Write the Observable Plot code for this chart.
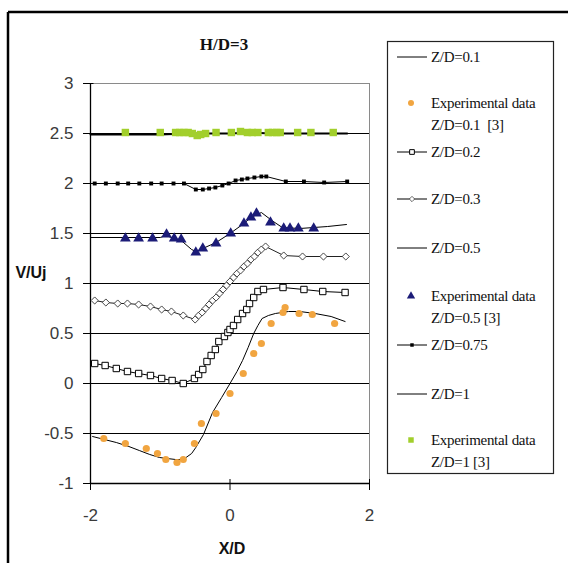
<!DOCTYPE html>
<html>
<head>
<meta charset="utf-8">
<script src="https://cdn.jsdelivr.net/npm/d3@7"></script>
<script src="https://cdn.jsdelivr.net/npm/@observablehq/plot@0.6"></script>
<style>
  html, body { margin: 0; padding: 0; background: #fff; }
  #chart { position: relative; width: 568px; height: 563px; overflow: hidden; }
</style>
</head>
<body>
<div id="chart"></div>
<script>
// ---- data ----
const titleText = "H/D=3";
const xLabel = "X/D";
const yLabel = "V/Uj";
const xTicks = [-2, 0, 2];
const yTicks = [-1, -0.5, 0, 0.5, 1, 1.5, 2, 2.5, 3];
const gridValues = [-0.5, 0, 0.5, 1, 1.5, 2, 2.5];

const z01X = [-1.97,-1.8,-1.63,-1.45,-1.3,-1.15,-1.01,-0.9,-0.78,-0.7,-0.63,-0.55,-0.49,-0.38,-0.25,-0.12,0,0.1,0.18,0.26,0.34,0.4,0.46,0.55,0.65,0.84,1.0,1.22,1.45,1.65];
const z01V = [-0.53,-0.56,-0.59,-0.63,-0.67,-0.71,-0.74,-0.75,-0.76,-0.76,-0.74,-0.70,-0.64,-0.51,-0.29,-0.14,0,0.12,0.23,0.36,0.5,0.58,0.65,0.68,0.70,0.72,0.72,0.70,0.67,0.62];

const exp01X = [-1.81,-1.50,-1.20,-1.04,-0.92,-0.76,-0.67,-0.51,-0.41,-0.20,0.0,0.19,0.34,0.45,0.59,0.76,0.79,0.99,1.18,1.50];
const exp01V = [-0.55,-0.60,-0.65,-0.70,-0.76,-0.79,-0.76,-0.60,-0.40,-0.30,-0.10,0.10,0.30,0.40,0.60,0.71,0.76,0.70,0.69,0.60];

const z02X = [-1.94,-1.79,-1.63,-1.47,-1.31,-1.14,-0.98,-0.83,-0.67,-0.51,-0.45,-0.39,-0.33,-0.27,-0.21,-0.16,-0.08,-0.03,0.0,0.05,0.11,0.18,0.24,0.28,0.34,0.40,0.48,0.76,1.06,1.33,1.65];
const z02V = [0.20,0.18,0.15,0.12,0.10,0.08,0.05,0.03,0.0,0.05,0.09,0.14,0.22,0.28,0.34,0.42,0.47,0.51,0.54,0.58,0.64,0.70,0.74,0.80,0.86,0.92,0.94,0.96,0.94,0.92,0.91];

const z03X = [-1.94,-1.78,-1.61,-1.47,-1.31,-1.14,-0.98,-0.84,-0.67,-0.50,-0.45,-0.40,-0.35,-0.30,-0.25,-0.20,-0.15,-0.10,-0.05,0.0,0.05,0.10,0.15,0.20,0.25,0.30,0.35,0.40,0.45,0.51,0.77,1.04,1.34,1.66];
const z03V = [0.83,0.81,0.80,0.80,0.79,0.77,0.74,0.72,0.68,0.64,0.68,0.71,0.75,0.79,0.83,0.86,0.90,0.94,0.98,1.02,1.06,1.10,1.13,1.17,1.20,1.24,1.27,1.31,1.34,1.37,1.28,1.27,1.27,1.27];

const z05X = [-2.0,-1.5,-1.0,-0.92,-0.8,-0.7,-0.55,-0.49,-0.39,-0.2,0.0,0.2,0.3,0.45,0.6,0.75,1.0,1.2,1.4,1.67];
const z05V = [1.46,1.46,1.46,1.48,1.45,1.43,1.34,1.32,1.35,1.41,1.50,1.60,1.66,1.71,1.63,1.56,1.55,1.56,1.57,1.59];

const exp05X = [-1.50,-1.31,-1.11,-0.91,-0.80,-0.70,-0.49,-0.39,-0.20,0.01,0.20,0.30,0.38,0.58,0.77,0.86,0.98,1.20];
const exp05V = [1.45,1.45,1.45,1.49,1.45,1.44,1.31,1.35,1.40,1.50,1.60,1.66,1.70,1.61,1.55,1.55,1.55,1.55];

const z075X = [-1.94,-1.78,-1.61,-1.46,-1.30,-1.13,-0.98,-0.81,-0.66,-0.49,-0.39,-0.30,-0.21,-0.11,-0.02,0.08,0.17,0.25,0.35,0.45,0.52,0.80,1.06,1.35,1.68];
const z075V = [2.0,2.0,2.0,2.0,2.0,2.0,2.0,2.0,2.0,1.94,1.94,1.95,1.96,1.98,2.0,2.03,2.04,2.05,2.06,2.07,2.07,2.02,2.02,2.01,2.02];

const z1X = [-2.0,-1.5,-1.0,-0.6,-0.45,-0.3,0,0.3,0.6,1.0,1.4,1.68];
const z1V = [2.49,2.49,2.49,2.5,2.49,2.5,2.5,2.51,2.5,2.5,2.5,2.5];

const exp1X = [-1.50,-1.00,-0.78,-0.72,-0.66,-0.60,-0.54,-0.47,-0.42,-0.35,-0.20,0.02,0.15,0.25,0.32,0.40,0.55,0.61,0.67,0.72,0.97,1.16,1.48];
const exp1V = [2.51,2.51,2.51,2.51,2.51,2.51,2.50,2.48,2.49,2.50,2.51,2.51,2.52,2.51,2.51,2.51,2.51,2.51,2.51,2.51,2.51,2.51,2.51];

const legendLabels = [
  ["Z/D=0.1"],
  ["Experimental data", "Z/D=0.1  [3]"],
  ["Z/D=0.2"],
  ["Z/D=0.3"],
  ["Z/D=0.5"],
  ["Experimental data", "Z/D=0.5 [3]"],
  ["Z/D=0.75"],
  ["Z/D=1"],
  ["Experimental data", "Z/D=1 [3]"]
];

// ---- styles ----
const ORANGE = "#f1a540";
const NAVY = "#1c1c78";
const GREEN = "#a2cf2c";
const zip = (xs, vs) => xs.map((x, i) => ({x, v: vs[i]}));

const d01 = zip(z01X, z01V), e01 = zip(exp01X, exp01V);
const d02 = zip(z02X, z02V), d03 = zip(z03X, z03V);
const d05 = zip(z05X, z05V), e05 = zip(exp05X, exp05V);
const d075 = zip(z075X, z075V), d1 = zip(z1X, z1V), e1 = zip(exp1X, exp1V);

const W = 568, H = 563;
const chart = Plot.plot({
  width: W, height: H,
  marginLeft: 90, marginRight: 199, marginTop: 83, marginBottom: 80,
  style: {background: "transparent", fontFamily: "'Liberation Sans', Arial, sans-serif"},
  x: {type: "linear", domain: [-2, 2]},
  y: {type: "linear", domain: [-1, 3]},
  marks: [
    // frame (grey top/right)
    Plot.ruleY([3], {stroke: "#8a8a8a", strokeWidth: 1}),
    Plot.ruleX([2], {stroke: "#8a8a8a", strokeWidth: 1}),
    // gridlines
    Plot.ruleY(gridValues, {stroke: "#000", strokeWidth: 1}),
    // axes
    Plot.ruleX([-2], {stroke: "#000", strokeWidth: 1.3}),
    Plot.ruleY([-1], {stroke: "#000", strokeWidth: 1.3}),
    Plot.ruleY(yTicks, {x1: -2.1, x2: -1.95, stroke: "#000", strokeWidth: 1}),
    Plot.ruleX(xTicks, {y1: -1.07, y2: -0.96, stroke: "#000", strokeWidth: 1}),
    Plot.axisY({ticks: yTicks, tickFormat: d => String(d), tickSize: 0, tickPadding: 17,
      fontSize: 17, fill: "#3a3a3a", label: null}),
    Plot.axisX({ticks: xTicks, tickFormat: d => String(d), tickSize: 0, tickPadding: 25,
      fontSize: 17, fill: "#3a3a3a", label: null}),
    // Z/D=1
    Plot.line(d1, {x: "x", y: "v", stroke: "#000", strokeWidth: 2}),
    Plot.dot(e1, {x: "x", y: "v", symbol: "square", r: 4.2, fill: GREEN, stroke: "none"}),
    // Z/D=0.75
    Plot.line(d075, {x: "x", y: "v", stroke: "#000", strokeWidth: 1}),
    Plot.dot(d075, {x: "x", y: "v", symbol: "square", r: 2.2, fill: "#000", stroke: "none"}),
    // Z/D=0.5
    Plot.line(d05, {x: "x", y: "v", stroke: "#000", strokeWidth: 1}),
    Plot.dot(e05, {x: "x", y: "v", symbol: "triangle", r: 4, fill: NAVY, stroke: "none"}),
    // Z/D=0.3
    Plot.line(d03, {x: "x", y: "v", stroke: "#222", strokeWidth: 1}),
    Plot.dot(d03, {x: "x", y: "v", symbol: "diamond2", r: 3.2, fill: "#fff", stroke: "#333", strokeWidth: 0.9}),
    // Z/D=0.2
    Plot.line(d02, {x: "x", y: "v", stroke: "#000", strokeWidth: 1}),
    Plot.dot(d02, {x: "x", y: "v", symbol: "square", r: 3.6, fill: "#fff", stroke: "#000", strokeWidth: 1}),
    // Z/D=0.1
    Plot.line(d01, {x: "x", y: "v", stroke: "#000", strokeWidth: 1}),
    Plot.dot(e01, {x: "x", y: "v", r: 3.6, fill: ORANGE, stroke: "none"})
  ]
});
document.getElementById("chart").appendChild(chart);

// ---- overlays: border, title, axis titles, legend ----
const svg = d3.select(chart);
svg.append("line").attr("x1", 8).attr("x2", W).attr("y1", 12).attr("y2", 12).attr("stroke", "#000").attr("stroke-width", 2.5);
svg.append("line").attr("x1", 8).attr("x2", 8).attr("y1", 12).attr("y2", H).attr("stroke", "#000").attr("stroke-width", 2.5);

svg.append("text").attr("x", 224).attr("y", 50).attr("text-anchor", "middle")
  .attr("font-family", "'Liberation Serif', 'Times New Roman', serif").attr("font-weight", "bold")
  .attr("font-size", 17).attr("fill", "#111").text(titleText);
svg.append("text").attr("x", 31).attr("y", 278).attr("text-anchor", "middle")
  .attr("font-family", "'Liberation Sans', Arial, sans-serif").attr("font-weight", "bold")
  .attr("font-size", 16).attr("fill", "#111").text(yLabel);
svg.append("text").attr("x", 232).attr("y", 554).attr("text-anchor", "middle")
  .attr("font-family", "'Liberation Sans', Arial, sans-serif").attr("font-weight", "bold")
  .attr("font-size", 16).attr("fill", "#111").text(xLabel);

// legend box
const lg = svg.append("g").attr("text-anchor", "start");
lg.append("rect").attr("x", 387.5).attr("y", 41.5).attr("width", 166).attr("height", 432)
  .attr("fill", "#fff").attr("stroke", "#222").attr("stroke-width", 1.2);
const rowY = [57, 103, 152, 199, 248, 296, 345, 394, 440];
const serif = "'Liberation Serif', 'Times New Roman', serif";
const kinds = ["line", "orange", "square", "diamond", "line", "tri", "smallsq", "line", "green"];
legendLabels.forEach((lines, i) => {
  const y = rowY[i];
  const k = kinds[i];
  if (["line", "square", "diamond", "smallsq"].includes(k)) {
    lg.append("line").attr("x1", 397).attr("x2", 427).attr("y1", y).attr("y2", y).attr("stroke", "#000").attr("stroke-width", 1);
  }
  const cx = 412;
  const sym = (type, size) => d3.symbol().type(type).size(size)();
  if (k === "square") lg.append("path").attr("d", sym(d3.symbolSquare, 22)).attr("transform", `translate(${cx},${y})`).attr("fill", "#fff").attr("stroke", "#000");
  if (k === "diamond") lg.append("path").attr("d", sym(d3.symbolDiamond2, 18)).attr("transform", `translate(${cx},${y})`).attr("fill", "#fff").attr("stroke", "#444").attr("stroke-width", 0.8);
  if (k === "smallsq") lg.append("path").attr("d", sym(d3.symbolSquare, 12)).attr("transform", `translate(${cx},${y})`).attr("fill", "#000");
  if (k === "orange") lg.append("circle").attr("cx", cx - 1).attr("cy", y).attr("r", 3).attr("fill", ORANGE);
  if (k === "tri") lg.append("path").attr("d", sym(d3.symbolTriangle, 30)).attr("transform", `translate(${cx - 1},${y})`).attr("fill", NAVY);
  if (k === "green") lg.append("path").attr("d", sym(d3.symbolSquare, 30)).attr("transform", `translate(${cx - 1},${y})`).attr("fill", GREEN);
  lines.forEach((t, j) => {
    lg.append("text").attr("x", 431).attr("y", y + 5 + j * 22).attr("text-anchor", "start")
      .attr("font-family", serif).attr("font-size", 15).attr("fill", "#111")
      .attr("letter-spacing", "-0.3").text(t);
  });
});
</script>
</body>
</html>
